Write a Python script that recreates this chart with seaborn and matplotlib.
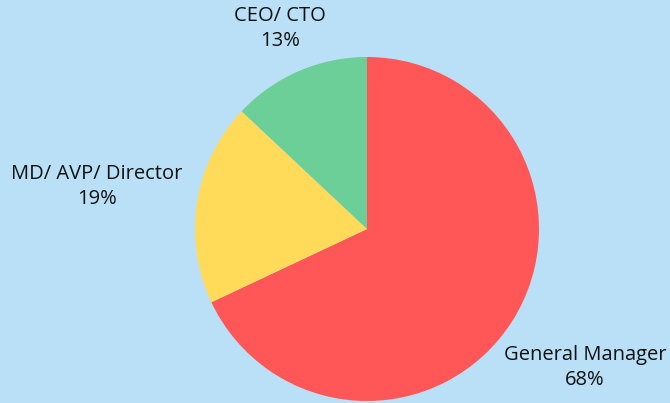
import numpy as np
import matplotlib
matplotlib.use('Agg')
import matplotlib.pyplot as plt
import seaborn as sns

# Dane
labels = ["General Manager", "MD/ AVP/ Director", "CEO/ CTO"]
shares = [68, 19, 13]
colors = ["#FF5757", "#FFDB59", "#6CCF97"]
label_dist = [1.50, 1.59, 1.27]

sns.set_style("white")
plt.rcParams['font.family'] = ['Open Sans', 'DejaVu Sans']

bg = "#BAE0F7"
fig = plt.figure(figsize=(6.7, 4.03), dpi=100, facecolor=bg)
ax = fig.add_axes([0, 0, 1, 1])
ax.set_facecolor(bg)

wedges, _ = ax.pie(shares, colors=colors, startangle=90, counterclock=False,
                   radius=1, wedgeprops=dict(linewidth=0))

# Etykiety z procentami
for w, lab, s, d in zip(wedges, labels, shares, label_dist):
    ang = np.deg2rad((w.theta1 + w.theta2) / 2)
    ax.text(d * np.cos(ang), d * np.sin(ang), f"{lab}\n{s}%",
            ha="center", va="center", fontsize=14.5, color="#111111",
            linespacing=1.35)

# Położenie koła w obrazku
cx, cy, r = 367, 403 - 229, 172
ax.set_xlim(-cx / r, (670 - cx) / r)
ax.set_ylim(-cy / r, (403 - cy) / r)
ax.set_aspect("equal")
ax.axis("off")

fig.savefig("out.png", dpi=100, facecolor=bg)
